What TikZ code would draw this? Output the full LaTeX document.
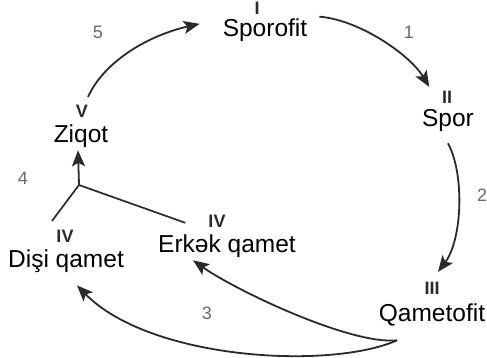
\documentclass[tikz,border=0pt]{standalone}
\usepackage{fontspec}
\setmainfont{Liberation Sans}
\usetikzlibrary{arrows.meta,calc}
\definecolor{linegray}{HTML}{2A2A2A}
\definecolor{numgray}{HTML}{6A6A6A}
\begin{document}
\begin{tikzpicture}[x=1pt,y=-1pt,
        stage/.style={inner sep=0pt,anchor=base,font=\fontsize{24.5}{24.5}\selectfont},
        roman/.style={inner sep=0pt,anchor=base,text=linegray,font=\fontsize{18}{18}\selectfont\bfseries},
        stepnum/.style={inner sep=0pt,text=numgray,font=\fontsize{18}{18}\selectfont},
        cycle/.style={line width=1.8pt,color=linegray,-{Stealth[length=16pt,width=13pt,inset=3.5pt]}},
        fork/.style={line width=1.7pt,color=linegray}]
        \useasboundingbox (0,0) rectangle (487,358);

        \node[stage] (sporofit) at (265,37) {Sporofit};
        \node[stage] (spor) at (448,127) {Spor};
        \node[stage] (qametofit) at (432,321) {Qametofit};
        \node[stage] (disi) at (66,267) {Dişi qamet};
        \node[stage] (erkek) at (227,252) {Erkək qamet};
        \node[stage] (ziqot) at (81,143) {Ziqot};

        \node[roman] (rI) at (257,15) {I};
        \node[roman] (rII) at (447,104) {II};
        \node[roman] (rIII) at (432,294) {III};
        \node[roman] (rIVd) at (65,242) {IV};
        \node[roman] (rIVe) at (217,227) {IV};
        \node[roman] (rV) at (82,118) {V};

        \node[stepnum] (n1) at (409,32) {1};
        \node[stepnum] (n2) at (482,195) {2};
        \node[stepnum] (n3) at (207,313) {3};
        \node[stepnum] (n4) at (23,178) {4};
        \node[stepnum] (n5) at (98,32) {5};

        \draw[cycle] ([shift={(12,-14)}]sporofit.east) .. controls (360,20) and (410,55) .. ([shift={(-12.5,-4.5)}]rII.north west);% 1
        \draw[cycle] ([shift={(0,11)}]spor.south) .. controls (465,175) and (462,240) .. ([shift={(6,-9.5)}]rIII.north);% 2
        \draw[cycle] ([shift={(-35,14.5)}]qametofit.south) .. controls (350,345) and (235,290) .. ([shift={(35,3)}]erkek.south west);% 3, upper
        \draw[cycle] ([shift={(-35,14.5)}]qametofit.south) .. controls (330,370) and (150,360) .. ([shift={(11,13)}]disi.south);% 3, lower
        \draw[cycle] ([shift={(6,-8.5)}]rV.north) .. controls (105,60) and (150,35) .. ([shift={(-23,-6.8)}]sporofit.west);% 5

        \coordinate (join) at (79,185);
        \draw[fork] ([shift={(-13,-8.5)}]rIVd.north) -- (join);% left branch
        \draw[fork] ([shift={(-23,2)}]rIVe.west) -- (join);% right branch
        \draw[cycle] (join) -- ([shift={(-3,2)}]ziqot.south);% 4

    \end{tikzpicture}
\end{document}
